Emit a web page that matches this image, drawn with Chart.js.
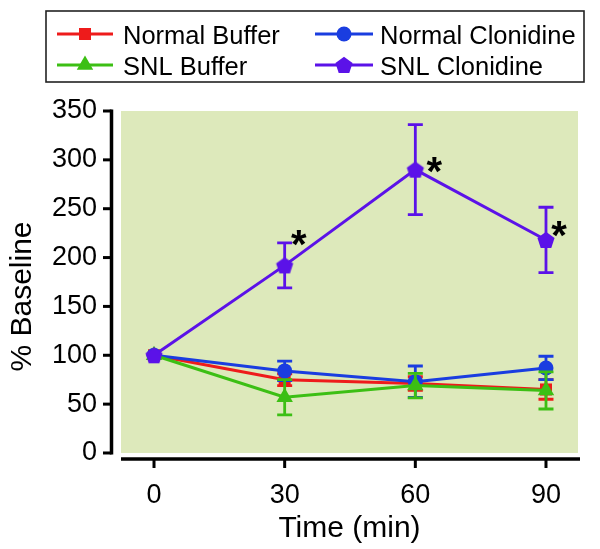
<!DOCTYPE html>
<html><head><meta charset="utf-8">
<script src="https://cdn.jsdelivr.net/npm/chart.js@4.4.1/dist/chart.umd.min.js"></script>
<style>html,body{margin:0;padding:0;background:#fff;}</style>
</head><body>
<canvas id="c" width="600" height="549" style="display:block;width:600px;height:549px"></canvas>
<script>
// ---- data ----
const times = [0, 30, 60, 90];
const xTickValues = [0, 30, 60, 90];
const yTickValues = [0, 50, 100, 150, 200, 250, 300, 350];
const seriesNames = ['Normal Buffer', 'SNL Buffer', 'Normal Clonidine', 'SNL Clonidine'];
const normalBuffer = [100, 75, 71, 65];
const normalBufferErr = [0, 6, 7, 10];
const snlBuffer = [100, 57, 69, 64];
const snlBufferErr = [0, 18, 12.5, 19];
const normalClonidine = [100, 84, 73, 87];
const normalClonidineErr = [0, 10, 16, 12];
const snlClonidine = [100, 192, 290, 218];
const snlClonidineErr = [0, 23, 46, 33.5];
const snlClonidineSignificant = [false, true, true, true];
const xAxisTitle = 'Time (min)';
const yAxisTitle = '% Baseline';

// ---- styles ----
const FONT = "'Liberation Sans', Arial, Helvetica, sans-serif";
const RED = '#ee1b1b', GREEN = '#3cbf14', BLUE = '#1a3de0', PURPLE = '#5b12e8';

function pentagon(color, r) {
  const c = document.createElement('canvas');
  const s = Math.ceil(r * 2 + 2);
  c.width = s; c.height = s;
  const g = c.getContext('2d');
  g.beginPath();
  for (let i = 0; i < 5; i++) {
    const a = -Math.PI / 2 + i * 2 * Math.PI / 5;
    const px = s / 2 + r * Math.cos(a), py = s / 2 + r * Math.sin(a) + 0.8;
    i ? g.lineTo(px, py) : g.moveTo(px, py);
  }
  g.closePath(); g.fillStyle = color; g.fill();
  return c;
}

function series(label, vals, errs, color, style, radius, order) {
  return {
    label, data: times.map((t, i) => ({x: t, y: vals[i]})), errors: errs,
    borderColor: color, backgroundColor: color, borderWidth: 3,
    pointStyle: style, pointRadius: radius, pointHoverRadius: radius,
    pointBorderWidth: 0, pointBackgroundColor: color, pointBorderColor: color,
    tension: 0, fill: false, order
  };
}

const datasets = [
  series(seriesNames[0], normalBuffer, normalBufferErr, RED, 'rect', 8.5, 4),
  series(seriesNames[1], snlBuffer, snlBufferErr, GREEN, 'triangle', 9.5, 2),
  series(seriesNames[2], normalClonidine, normalClonidineErr, BLUE, 'circle', 7.5, 3),
  series(seriesNames[3], snlClonidine, snlClonidineErr, PURPLE, pentagon(PURPLE, 9), 9, 1)
];

const decor = {
  id: 'decor',
  beforeDatasetsDraw(chart) {
    const {ctx, scales: {x, y}} = chart;
    const l = x.getPixelForValue(x.min), r = x.getPixelForValue(x.max);
    const t = y.getPixelForValue(yTickValues[yTickValues.length - 1]);
    const b = y.getPixelForValue(0);
    ctx.save();
    ctx.fillStyle = '#dde9bb';
    ctx.fillRect(l, t, r - l, b - t);
    ctx.strokeStyle = '#000';
    ctx.lineCap = 'butt';
    // y axis
    ctx.lineWidth = 3.5;
    ctx.beginPath(); ctx.moveTo(l - 9.5, t - 1.5); ctx.lineTo(l - 9.5, b + 1.5); ctx.stroke();
    ctx.lineWidth = 3;
    yTickValues.forEach(v => {
      const py = y.getPixelForValue(v);
      ctx.beginPath(); ctx.moveTo(l - 18, py); ctx.lineTo(l - 9.5, py); ctx.stroke();
    });
    // x axis
    const ax = b + 6;
    ctx.lineWidth = 3.5;
    ctx.beginPath(); ctx.moveTo(l, ax); ctx.lineTo(r + 2, ax); ctx.stroke();
    ctx.lineWidth = 3;
    xTickValues.forEach(v => {
      const px = x.getPixelForValue(v);
      ctx.beginPath(); ctx.moveTo(px, ax); ctx.lineTo(px, ax + 9); ctx.stroke();
    });
    ctx.restore();
  },
  beforeDatasetDraw(chart, args) {
    const ds = chart.data.datasets[args.index];
    const {ctx, scales: {x, y}} = chart;
    ctx.save();
    ctx.strokeStyle = ds.borderColor; ctx.lineWidth = 2.8;
    ds.data.forEach((p, i) => {
      const e = ds.errors[i];
      if (!e) return;
      const px = x.getPixelForValue(p.x);
      const hi = y.getPixelForValue(p.y + e), lo = y.getPixelForValue(p.y - e);
      ctx.beginPath();
      ctx.moveTo(px, hi); ctx.lineTo(px, lo);
      ctx.moveTo(px - 7.5, hi); ctx.lineTo(px + 7.5, hi);
      ctx.moveTo(px - 7.5, lo); ctx.lineTo(px + 7.5, lo);
      ctx.stroke();
    });
    ctx.restore();
  },
  afterDatasetsDraw(chart) {
    const {ctx} = chart;
    const meta = chart.getDatasetMeta(3);
    const offs = [[0, 0], [14, -30], [19, -8], [13, -14]];
    ctx.save();
    ctx.fillStyle = '#000';
    ctx.font = 'bold 40px ' + FONT;
    ctx.textAlign = 'center';
    ctx.textBaseline = 'alphabetic';
    meta.data.forEach((pt, i) => {
      if (!snlClonidineSignificant[i]) return;
      ctx.fillText('*', pt.x + offs[i][0], pt.y + offs[i][1] + 23);
    });
    ctx.restore();
  },
  afterDraw(chart) {
    const {ctx} = chart;
    ctx.save();
    ctx.strokeStyle = '#222'; ctx.lineWidth = 1.6;
    ctx.strokeRect(46, 11, 538, 71);
    const cols = [[57, 113, 123], [315, 373, 380]];
    const rows = [34, 65];
    const place = [[0, 0], [0, 1], [1, 0], [1, 1]];
    ctx.font = '25.5px ' + FONT;
    ctx.textBaseline = 'alphabetic';
    ctx.textAlign = 'left';
    chart.data.datasets.forEach((ds, i) => {
      const [c, r] = place[i];
      const [x0, x1, tx] = cols[c];
      const yy = rows[r];
      ctx.strokeStyle = ds.borderColor; ctx.lineWidth = 3;
      ctx.beginPath(); ctx.moveTo(x0, yy); ctx.lineTo(x1, yy); ctx.stroke();
      ctx.fillStyle = ds.borderColor;
      Chart.helpers.drawPoint(ctx, {pointStyle: ds.pointStyle, radius: ds.pointRadius, rotation: 0, borderWidth: 0}, (x0 + x1) / 2, yy);
      ctx.fillStyle = '#000';
      ctx.fillText(ds.label, tx, yy + 10);
    });
    ctx.restore();
  }
};

Chart.defaults.font.family = FONT;
Chart.defaults.color = '#000';

new Chart(document.getElementById('c'), {
  type: 'line',
  data: {datasets},
  options: {
    responsive: false, animation: false,
    layout: {padding: {top: 111, right: 22, bottom: 0, left: 0}},
    plugins: {legend: {display: false}, tooltip: {enabled: false}},
    scales: {
      x: {
        type: 'linear', min: -7.58, max: 97.35,
        grid: {display: false, drawTicks: false}, border: {display: false},
        afterBuildTicks(s) { s.ticks = xTickValues.map(v => ({value: v})); },
        afterFit(s) { s.height = 67; },
        ticks: {font: {size: 27}, padding: -3, color: '#000', callback: v => String(v)},
        title: {display: true, text: xAxisTitle, font: {size: 30}, color: '#000', padding: {top: 0, bottom: 2.5}}
      },
      y: {
        type: 'linear', min: -29.7, max: 350,
        grid: {display: false, drawTicks: false}, border: {display: false},
        afterBuildTicks(s) { s.ticks = yTickValues.map(v => ({value: v})); },
        afterFit(s) { s.width = 121; },
        ticks: {font: {size: 27}, padding: 24, color: '#000', callback: v => String(v)},
        title: {display: true, text: yAxisTitle, font: {size: 30}, color: '#000', padding: {top: 4.5, bottom: 0}}
      }
    }
  },
  plugins: [decor]
});
</script>
</body></html>
